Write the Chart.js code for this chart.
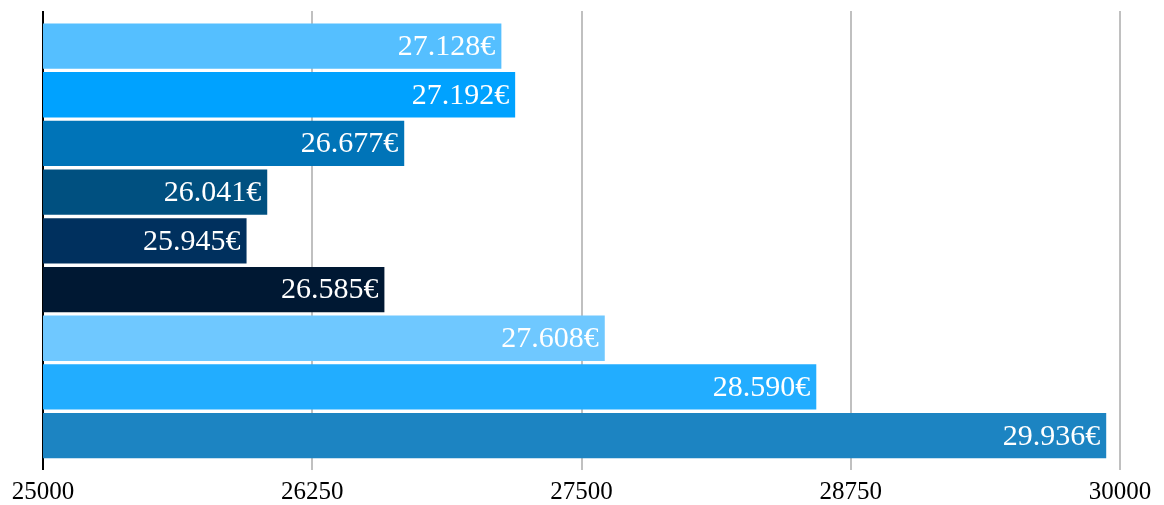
<!DOCTYPE html>
<html>
<head>
<meta charset="utf-8">
<script src="https://cdn.jsdelivr.net/npm/chart.js@4"></script>
<style>
    body { margin: 0; background: #fff; }
    #wrap { width: 1164px; height: 505px; }
</style>
</head>
<body>
<div id="wrap"><canvas id="chart"></canvas></div>
<script>
const categories = ['1', '2', '3', '4', '5', '6', '7', '8', '9'];
const values = [27128, 27192, 26677, 26041, 25945, 26585, 27608, 28590, 29936];
const barColors = ['#55bfff', '#00a2ff', '#0074b8', '#005080', '#00305e', '#001833', '#6fc8ff', '#22adff', '#1c84c2'];
const tickValues = [25000, 26250, 27500, 28750, 30000];

const fmt = v => String(v).replace(/\B(?=(\d{3})+(?!\d))/g, '.') + '€';
const serif = '"Liberation Serif", "Times New Roman", serif';

const valueLabels = {
    id: 'valueLabels',
    afterDatasetsDraw(chart) {
        const ctx = chart.ctx;
        const meta = chart.getDatasetMeta(0);
        ctx.save();
        ctx.fillStyle = '#fff';
        ctx.font = '30px ' + serif;
        ctx.textAlign = 'right';
        ctx.textBaseline = 'middle';
        meta.data.forEach((bar, i) => {
            ctx.fillText(fmt(values[i]), bar.x - 6, bar.y + 1);
        });
        ctx.restore();
    }
};

// the index axis is linear so the first bar can sit a little below the top of the grid
const points = categories.map((c, i) => ({ x: values[i], y: i }));

new Chart(document.getElementById('chart'), {
    type: 'bar',
    data: {
        datasets: [{
            data: points,
            backgroundColor: barColors,
            categoryPercentage: 1,
            barPercentage: 0.93
        }]
    },
    options: {
        indexAxis: 'y',
        responsive: true,
        maintainAspectRatio: false,
        animation: false,
        layout: { padding: { left: 43, right: 44, top: 11, bottom: 0 } },
        plugins: {
            legend: { display: false },
            tooltip: { enabled: false }
        },
        scales: {
            x: {
                type: 'linear',
                min: 25000,
                max: 30000,
                afterBuildTicks: axis => { axis.ticks = tickValues.map(v => ({ value: v })); },
                afterFit: axis => { axis.height = 45; },
                border: { display: false },
                grid: {
                    color: c => c.index === 0 ? '#000' : '#c0c0c0',
                    lineWidth: 2,
                    tickLength: 10
                },
                ticks: {
                    color: '#000',
                    font: { family: serif, size: 25, lineHeight: 1 },
                    maxRotation: 0,
                    padding: 10,
                    callback: v => String(v)
                }
            },
            y: {
                type: 'linear',
                display: false,
                reverse: true,
                offset: false,
                min: -0.72,
                max: 8.5,
                afterBuildTicks: axis => { axis.ticks = categories.map((c, i) => ({ value: i })); }
            }
        }
    },
    plugins: [valueLabels]
});
</script>
</body>
</html>
